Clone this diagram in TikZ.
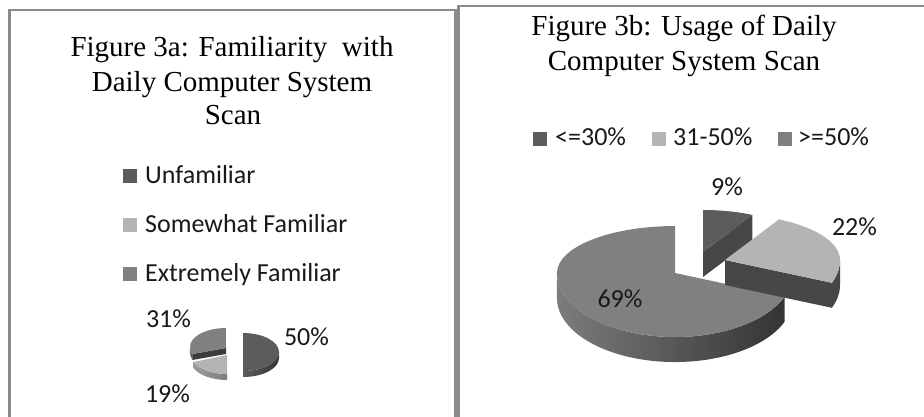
\documentclass[tikz,border=0pt]{standalone}
\usepackage{fontspec}
\setmainfont{Carlito}
\newfontfamily\titlefont{Liberation Serif}
\definecolor{frameGray}{HTML}{8C8C8C}
\definecolor{darkTop}{HTML}{5C5C5C}
\definecolor{darkWall}{HTML}{343434}
\definecolor{darkCut}{HTML}{474747}
\definecolor{lightTop}{HTML}{B4B4B4}
\definecolor{lightWallL}{HTML}{9A9A9A}
\definecolor{lightWallR}{HTML}{7E7E7E}
\definecolor{midTop}{HTML}{808080}
\definecolor{midWallL}{HTML}{7C7C7C}
\definecolor{midWallR}{HTML}{343434}
\definecolor{cutDark}{HTML}{3C3C3C}
\tikzset{
  frame/.style={draw=frameGray, line width=2.6pt},
  title/.style={font=\titlefont\fontsize{29}{34}\selectfont, inner sep=0pt, anchor=base},
  legtext/.style={font=\fontsize{26}{30}\selectfont, inner sep=0pt, anchor=base west, text=black!90},
  pct/.style={font=\fontsize{26}{30}\selectfont, inner sep=0pt, anchor=base, text=black!90},
  legkey/.style={minimum size=14pt, inner sep=0pt, anchor=south west},
  piecut/.style={fill=darkCut}
}
\begin{document}
\begin{tikzpicture}[x=1pt,y=1pt]
\useasboundingbox (0,0) rectangle (924,-417);
\fill[white] (0,0) rectangle (924,-417);

% panel frames
\draw[frame] (9.5,-417) -- (9.5,-10) -- (455.5,-10) -- (455.5,-417);
\draw[frame] (458.5,-417) -- (458.5,-6) -- (924,-6);

% ---------- Figure 3a ----------
\node[title] (ta1) at (232,-57) {Figure 3a: Familiarity\ \ with};
\node[title] (ta2) at (232,-92) {Daily Computer System};
\node[title] (ta3) at (233,-125) {Scan};

\node[legkey, fill=darkTop]  (ka1) at (123,-183) {};
\node[legtext] (la1) at (145,-183) {Unfamiliar};
\node[legkey, fill=lightTop] (ka2) at (123,-232) {};
\node[legtext] (la2) at (145,-232) {Somewhat Familiar};
\node[legkey, fill=midTop]   (ka3) at (123,-281) {};
\node[legtext] (la3) at (145,-281) {Extremely Familiar};

% small exploded pie: 31% slice (left, back)
\shade[left color=midWallL, right color=midWallR]
  (192.5,-354) arc[start angle=-158.4, end angle=-180, x radius=36, y radius=19]
  -- ++(0,-6) arc[start angle=-180, end angle=-158.4, x radius=36, y radius=19] -- cycle;
\fill[cutDark] (226,-348) -- (192.5,-354) -- (192.5,-360) -- (226,-354) -- cycle;
\fill[midTop] (226,-348) -- (192.5,-354)
  arc[start angle=-158.4, end angle=-270, x radius=36, y radius=19] -- cycle;

% 19% slice
\shade[left color=lightWallL, right color=lightWallR]
  (227,-374) arc[start angle=-90, end angle=-158.4, x radius=36, y radius=19]
  -- ++(0,-6) arc[start angle=-158.4, end angle=-90, x radius=36, y radius=19] -- cycle;
\fill[lightTop] (227,-355) -- (227,-374)
  arc[start angle=-90, end angle=-158.4, x radius=36, y radius=19] -- cycle;

% 50% slice
\shade[left color=darkWall!80, right color=darkWall]
  (279,-352) arc[start angle=0, end angle=-90, x radius=36, y radius=19]
  -- ++(0,-6) arc[start angle=-90, end angle=0, x radius=36, y radius=19] -- cycle;
\fill[darkTop] (243,-352) -- (243,-333)
  arc[start angle=90, end angle=-90, x radius=36, y radius=19] -- cycle;

\node[pct] (pa31) at (168.5,-327) {31\%};
\node[pct] (pa50) at (306.5,-345) {50\%};
\node[pct] (pa19) at (167.5,-402) {19\%};

% ---------- Figure 3b ----------
\node[title] (tb1) at (684,-36) {Figure 3b: Usage of Daily};
\node[title] (tb2) at (684,-70.5) {Computer System Scan};

\node[legkey, fill=darkTop]  (kb1) at (533,-146) {};
\node[legtext] (lb1) at (555,-146) {<=30\%};
\node[legkey, fill=lightTop] (kb2) at (652,-146) {};
\node[legtext] (lb2) at (673,-146) {31-50\%};
\node[legkey, fill=midTop]   (kb3) at (778,-146) {};
\node[legtext] (lb3) at (798,-146) {>=50\%};

% 69% slice: outer wall, then top face
\shade[left color=midWallL, right color=midWallR]
  (784.7,-296.6) arc[start angle=-21.6, end angle=-180, x radius=118, y radius=64]
  -- ++(0,-25) arc[start angle=-180, end angle=-21.6, x radius=118, y radius=64] -- cycle;
\fill[midTop] (675,-273) -- (784.7,-296.6)
  arc[start angle=-21.6, end angle=-180, x radius=118, y radius=64]
  arc[start angle=180, end angle=90, x radius=118, y radius=47] -- cycle;

% 9% slice: cut face and top face
\fill[darkCut] (703,-252) -- (752.3,-214.9) -- (752.3,-239.9) -- (703,-277) -- cycle;
\fill[darkTop] (703,-252) -- (703,-210)
  arc[start angle=90, end angle=62, x radius=105, y radius=42] -- cycle;

% 22% slice: outer wall sliver, cut face, top face
\fill[darkCut] (840,-260) arc[start angle=0, end angle=-21.6, x radius=115, y radius=62]
  -- ++(0,-25) arc[start angle=-21.6, end angle=0, x radius=115, y radius=62] -- cycle;
\fill[darkCut] (725,-260) -- (831.9,-282.8) -- (831.9,-307.8) -- (725,-285) -- cycle;
\fill[lightTop] (725,-260) -- (779,-219.4)
  arc[start angle=62, end angle=0, x radius=115, y radius=46]
  arc[start angle=0, end angle=-21.6, x radius=115, y radius=62] -- cycle;

\node[pct] (pb9)  at (727,-195) {9\%};
\node[pct] (pb22) at (854.5,-235) {22\%};
\node[pct] (pb69) at (620,-307) {69\%};
\end{tikzpicture}
\end{document}
